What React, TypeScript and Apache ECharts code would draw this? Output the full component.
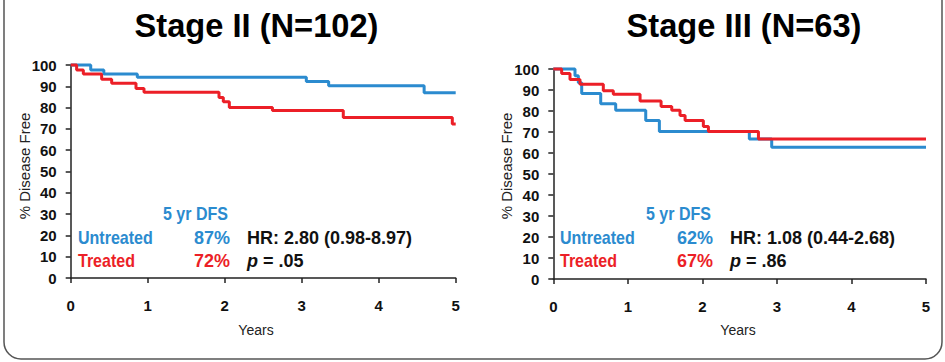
import React, { useEffect, useRef } from "react";
import * as echarts from "echarts";

const FONT = '"Liberation Sans", Arial, Helvetica, sans-serif';
const BLUE = "#2b8bcf";
const RED = "#ec1f27";

// Kaplan–Meier curves: [years, % disease free]
const stage2Untreated: [number, number][] = [
  [0, 100], [0.26, 97.7], [0.43, 95.8], [0.865, 94.2], [3.06, 92.3], [3.35, 90.3], [4.59, 87.0], [5, 87.0],
];
const stage2Treated: [number, number][] = [
  [0, 100], [0.077, 97.7], [0.164, 95.8], [0.402, 93.3], [0.532, 91.4], [0.848, 89.0], [0.952, 87.2],
  [1.926, 84.7], [1.982, 82.8], [2.06, 80.1], [2.62, 78.6], [3.54, 75.3], [4.956, 72.3], [5, 72.3],
];
const stage3Untreated: [number, number][] = [
  [0, 100], [0.291, 96.8], [0.336, 93.5], [0.381, 88.3], [0.636, 83.5], [0.837, 80.3], [1.24, 75.5],
  [1.423, 70.2], [2.63, 66.7], [2.93, 62.7], [5, 62.7],
];
const stage3Treated: [number, number][] = [
  [0, 100], [0.112, 97.9], [0.224, 95.0], [0.358, 92.7], [0.671, 89.6], [0.805, 88.0], [1.164, 84.8],
  [1.446, 82.2], [1.589, 80.3], [1.7, 77.9], [1.768, 75.5], [2.013, 72.6], [2.081, 70.2], [2.752, 66.7], [5, 66.7],
];

const titles = ["Stage II (N=102)", "Stage III (N=63)"];
const groupNames = ["Untreated", "Treated"];
const dfsHeader = "5 yr DFS";
const stage2DFS = ["87%", "72%"];
const stage3DFS = ["62%", "67%"];
const hrTexts = ["HR: 2.80 (0.98-8.97)", "HR: 1.08 (0.44-2.68)"];
const pValues = [".05", ".86"];
const xName = "Years";
const yName = "% Disease Free";

function txt(x: number, y: number, text: string, opts: any = {}) {
  const align = opts.align || "left";
  return {
    type: "text",
    x,
    y,
    scaleX: opts.scaleX || 1,
    rotation: opts.rotation || 0,
    silent: true,
    style: {
      text,
      fill: opts.fill || "#111",
      font: `${opts.style || "normal"} ${opts.weight || "bold"} ${opts.size || 18}px ${FONT}`,
      align,
      textAlign: align,
      verticalAlign: "middle",
      textVerticalAlign: "middle",
      rich: opts.rich,
    },
  };
}

export default function App() {
  const ref = useRef<HTMLDivElement>(null);
  useEffect(() => {
    document.body.style.margin = "0";
    const chart = echarts.init(ref.current!, null, { renderer: "svg" });

    const panels = [
      { left: 70.7, top: 65, width: 385, height: 213, dfs: stage2DFS, titleX: 256.5, legendX: 78, dfsHeadX: 163, pctRight: 230, hrX: 247, yNameX: 24, yNameY: 166, xNameX: 256 },
      { left: 553.3, top: 69, width: 372.7, height: 210, dfs: stage3DFS, titleX: 744, legendX: 560, dfsHeadX: 646, pctRight: 713, hrX: 730, yNameX: 506, yNameY: 166, xNameX: 738 },
    ];

    const axisLineStyle = { color: "#222", width: 1.5 };
    const graphics: any[] = [
      {
        type: "rect",
        silent: true,
        shape: { x: 4, y: -30, width: 938, height: 389, r: [0, 0, 17, 17] },
        style: { fill: "none", stroke: "#555", lineWidth: 1.5 },
      },
    ];
    panels.forEach((p, i) => {
      graphics.push(txt(p.titleX, 25, titles[i], { align: "center", size: 34, fill: "#000", scaleX: 0.96 }));
      graphics.push(txt(p.xNameX, 330, xName, { align: "center", size: 14, weight: "normal", fill: "#222" }));
      graphics.push(txt(p.yNameX, p.yNameY, yName, { align: "center", size: 15, weight: "normal", fill: "#222", rotation: Math.PI / 2 }));
      graphics.push(txt(p.dfsHeadX, 214, dfsHeader, { fill: BLUE, scaleX: 0.89 }));
      graphics.push(txt(p.legendX, 238, groupNames[0], { fill: BLUE, scaleX: 0.89 }));
      graphics.push(txt(p.legendX, 261, groupNames[1], { fill: RED, scaleX: 0.89 }));
      graphics.push(txt(p.pctRight, 238, p.dfs[0], { fill: BLUE, align: "right" }));
      graphics.push(txt(p.pctRight, 261, p.dfs[1], { fill: RED, align: "right" }));
      graphics.push(txt(p.hrX, 238, hrTexts[i], { fill: "#111" }));
      graphics.push(
        txt(p.hrX, 261, `{i|p}{n| = ${pValues[i]}}`, {
          fill: "#111",
          rich: {
            i: { fontStyle: "italic", fontWeight: "bold", fontSize: 18, fontFamily: FONT, fill: "#111" },
            n: { fontWeight: "bold", fontSize: 18, fontFamily: FONT, fill: "#111" },
          },
        })
      );
    });

    const option: any = {
      animation: false,
      grid: panels.map((p) => ({ left: p.left, top: p.top, width: p.width, height: p.height, containLabel: false })),
      xAxis: panels.map((_, i) => ({
        type: "value",
        gridIndex: i,
        min: 0,
        max: 5,
        interval: 1,
        axisLine: { show: true, lineStyle: axisLineStyle },
        axisTick: { show: true, inside: false, length: 5, lineStyle: axisLineStyle },
        axisLabel: { fontFamily: FONT, fontWeight: "bold", fontSize: 15, color: "#111", margin: 20 },
        splitLine: { show: false },
      })),
      yAxis: panels.map((_, i) => ({
        type: "value",
        gridIndex: i,
        min: 0,
        max: 100,
        interval: 10,
        axisLine: { show: true, lineStyle: axisLineStyle },
        axisTick: { show: true, inside: false, length: 5, lineStyle: axisLineStyle },
        axisLabel: { fontFamily: FONT, fontWeight: "bold", fontSize: 15, color: "#111", margin: 14 },
        splitLine: { show: false },
      })),
      series: [
        { data: stage2Untreated, color: BLUE, xAxisIndex: 0, yAxisIndex: 0 },
        { data: stage2Treated, color: RED, xAxisIndex: 0, yAxisIndex: 0 },
        { data: stage3Untreated, color: BLUE, xAxisIndex: 1, yAxisIndex: 1 },
        { data: stage3Treated, color: RED, xAxisIndex: 1, yAxisIndex: 1 },
      ].map((s) => ({
        type: "line",
        step: "end",
        symbol: "none",
        showSymbol: false,
        silent: true,
        clip: false,
        data: s.data,
        xAxisIndex: s.xAxisIndex,
        yAxisIndex: s.yAxisIndex,
        itemStyle: { color: s.color },
        lineStyle: { color: s.color, width: 3 },
      })),
      graphic: graphics,
    };
    chart.setOption(option);
    return () => chart.dispose();
  }, []);
  return <div ref={ref} style={{ width: 945, height: 362 }} />;
}
